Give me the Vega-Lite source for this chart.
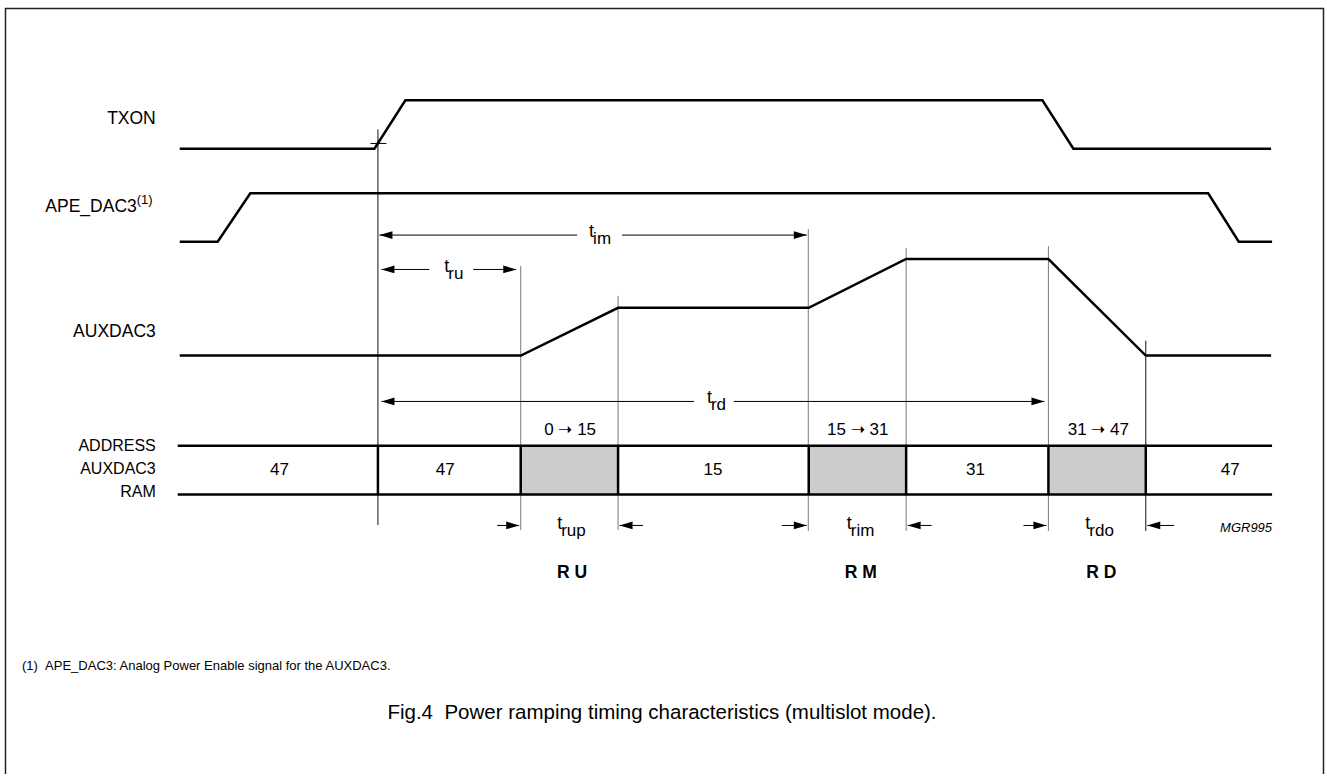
{
  "$schema": "https://vega.github.io/schema/vega-lite/v6.json",
  "autosize": {"type": "fit", "contains": "padding"},
  "width": 1327,
  "height": 777,
  "padding": 0,
  "background": "white",
  "config": {"view": {"stroke": null}, "text": {"font": "Liberation Sans", "color": "black"}},
  "datasets": {
    "frame": [
      {"i": 0, "x": 5.5, "y": 777},
      {"i": 1, "x": 5.5, "y": 8.5},
      {"i": 2, "x": 1325.5, "y": 8.5},
      {"i": 3, "x": 1325.5, "y": 777}
    ],
    "wave": [
      {"sig": "TXON", "i": 0, "x": 180, "y": 149.3},
      {"sig": "TXON", "i": 1, "x": 375, "y": 149.3},
      {"sig": "TXON", "i": 2, "x": 406, "y": 100.7},
      {"sig": "TXON", "i": 3, "x": 1044, "y": 100.7},
      {"sig": "TXON", "i": 4, "x": 1075, "y": 149.3},
      {"sig": "TXON", "i": 5, "x": 1273, "y": 149.3},
      {"sig": "APE", "i": 0, "x": 180, "y": 242.7},
      {"sig": "APE", "i": 1, "x": 218, "y": 242.7},
      {"sig": "APE", "i": 2, "x": 250.7, "y": 194},
      {"sig": "APE", "i": 3, "x": 1210, "y": 194},
      {"sig": "APE", "i": 4, "x": 1240.6, "y": 242.7},
      {"sig": "APE", "i": 5, "x": 1274, "y": 242.7},
      {"sig": "AUX", "i": 0, "x": 180, "y": 357},
      {"sig": "AUX", "i": 1, "x": 521.7, "y": 357},
      {"sig": "AUX", "i": 2, "x": 619, "y": 309},
      {"sig": "AUX", "i": 3, "x": 810, "y": 309},
      {"sig": "AUX", "i": 4, "x": 907.5, "y": 260},
      {"sig": "AUX", "i": 5, "x": 1050, "y": 260},
      {"sig": "AUX", "i": 6, "x": 1147.5, "y": 357},
      {"sig": "AUX", "i": 7, "x": 1273, "y": 357}
    ],
    "guides": [
      {"x": 378.5, "y": 130, "y2": 527, "tone": "dark"},
      {"x": 521.5, "y": 267, "y2": 532, "tone": "light"},
      {"x": 619, "y": 297, "y2": 532, "tone": "light"},
      {"x": 809.5, "y": 230, "y2": 533, "tone": "light"},
      {"x": 907.5, "y": 249, "y2": 533, "tone": "light"},
      {"x": 1050, "y": 247, "y2": 533, "tone": "light"},
      {"x": 1147.5, "y": 342, "y2": 533, "tone": "dark"}
    ],
    "dims": [
      {"x": 371, "x2": 387, "y": 144},
      {"x": 380, "x2": 578, "y": 236},
      {"x": 623, "x2": 808, "y": 236},
      {"x": 382, "x2": 430, "y": 270.5},
      {"x": 474, "x2": 517, "y": 270.5},
      {"x": 382, "x2": 695, "y": 403},
      {"x": 735, "x2": 1046, "y": 403},
      {"x": 498, "x2": 520, "y": 527.5},
      {"x": 620.5, "x2": 644, "y": 527.5},
      {"x": 783, "x2": 808, "y": 527.5},
      {"x": 909, "x2": 933, "y": 527.5},
      {"x": 1025, "x2": 1048, "y": 527.5},
      {"x": 1149, "x2": 1176, "y": 527.5}
    ],
    "heads": [
      {"x": 380, "y": 236, "dir": "left"},
      {"x": 808, "y": 236, "dir": "right"},
      {"x": 382, "y": 270.5, "dir": "left"},
      {"x": 517, "y": 270.5, "dir": "right"},
      {"x": 382, "y": 403, "dir": "left"},
      {"x": 1046, "y": 403, "dir": "right"},
      {"x": 520, "y": 527.5, "dir": "right"},
      {"x": 620.5, "y": 527.5, "dir": "left"},
      {"x": 808, "y": 527.5, "dir": "right"},
      {"x": 909, "y": 527.5, "dir": "left"},
      {"x": 1048, "y": 527.5, "dir": "right"},
      {"x": 1149, "y": 527.5, "dir": "left"}
    ],
    "bus": [
      {"x": 178, "x2": 1274, "y": 447.5},
      {"x": 178, "x2": 1274, "y": 496.5}
    ],
    "cells": [
      {"x": 378.5, "y": 447.5, "y2": 496.5},
      {"x": 521.5, "y": 447.5, "y2": 496.5},
      {"x": 619, "y": 447.5, "y2": 496.5},
      {"x": 810, "y": 447.5, "y2": 496.5},
      {"x": 907.5, "y": 447.5, "y2": 496.5},
      {"x": 1050, "y": 447.5, "y2": 496.5},
      {"x": 1147.5, "y": 447.5, "y2": 496.5}
    ],
    "boxes": [
      {"x": 521.5, "x2": 619, "y": 447.5, "y2": 496.5},
      {"x": 810, "x2": 907.5, "y": 447.5, "y2": 496.5},
      {"x": 1050, "x2": 1147.5, "y": 447.5, "y2": 496.5}
    ],
    "tlabels": [
      {"x": 594, "y": 238, "sub": "im"},
      {"x": 449, "y": 273, "sub": "ru"},
      {"x": 712, "y": 405, "sub": "rd"},
      {"x": 562, "y": 531, "sub": "rup"},
      {"x": 852, "y": 531, "sub": "rim"},
      {"x": 1091, "y": 531, "sub": "rdo"}
    ],
    "texts": [
      {"role": "sig", "x": 156, "y": 119, "text": "TXON"},
      {"role": "sig", "x": 137, "y": 208, "text": "APE_DAC3"},
      {"role": "sup", "x": 137, "y": 201, "text": "(1)"},
      {"role": "sig", "x": 156, "y": 333, "text": "AUXDAC3"},
      {"role": "bus", "x": 156, "y": 448, "text": "ADDRESS"},
      {"role": "bus", "x": 156, "y": 471, "text": "AUXDAC3"},
      {"role": "bus", "x": 156, "y": 494, "text": "RAM"},
      {"role": "val", "x": 280, "y": 472, "text": "47"},
      {"role": "val", "x": 446, "y": 472, "text": "47"},
      {"role": "val", "x": 714, "y": 472, "text": "15"},
      {"role": "val", "x": 977, "y": 472, "text": "31"},
      {"role": "val", "x": 1232, "y": 472, "text": "47"},
      {"role": "val", "x": 571, "y": 432, "text": "0 ➝ 15"},
      {"role": "val", "x": 859, "y": 432, "text": "15 ➝ 31"},
      {"role": "val", "x": 1100, "y": 432, "text": "31 ➝ 47"},
      {"role": "zone", "x": 573, "y": 575, "text": "R U"},
      {"role": "zone", "x": 862, "y": 575, "text": "R M"},
      {"role": "zone", "x": 1103, "y": 575, "text": "R D"},
      {"role": "code", "x": 1274, "y": 530, "text": "MGR995"},
      {"role": "foot", "x": 22, "y": 669, "text": "(1)\u00a0\u00a0APE_DAC3: Analog Power Enable signal for the AUXDAC3."},
      {"role": "cap", "x": 663, "y": 716, "text": "Fig.4\u00a0\u00a0Power ramping timing characteristics (multislot mode)."}
    ]
  },
  "layer": [
    {
      "data": {"name": "frame"},
      "mark": {"type": "line", "color": "#222222", "strokeWidth": 1.5},
      "encoding": {
        "x": {"field": "x", "type": "quantitative", "scale": {"domain": [0, 1327], "nice": false, "zero": false}, "axis": null},
        "y": {"field": "y", "type": "quantitative", "scale": {"domain": [0, 777], "reverse": true, "nice": false, "zero": false}, "axis": null},
        "order": {"field": "i"}
      }
    },
    {
      "data": {"name": "boxes"},
      "mark": {"type": "rect", "fill": "#cccccc"},
      "encoding": {
        "x": {"field": "x", "type": "quantitative", "axis": null},
        "x2": {"field": "x2"},
        "y": {"field": "y", "type": "quantitative", "axis": null},
        "y2": {"field": "y2"}
      }
    },
    {
      "data": {"name": "guides"},
      "mark": {"type": "rule", "strokeWidth": 1},
      "encoding": {
        "x": {"field": "x", "type": "quantitative", "axis": null},
        "y": {"field": "y", "type": "quantitative", "axis": null},
        "y2": {"field": "y2"},
        "color": {"field": "tone", "type": "nominal", "scale": {"domain": ["dark", "light"], "range": ["#111111", "#7a7a7a"]}, "legend": null}
      }
    },
    {
      "data": {"name": "dims"},
      "mark": {"type": "rule", "strokeWidth": 1, "color": "black"},
      "encoding": {
        "x": {"field": "x", "type": "quantitative", "axis": null},
        "x2": {"field": "x2"},
        "y": {"field": "y", "type": "quantitative", "axis": null}
      }
    },
    {
      "data": {"name": "heads"},
      "mark": {"type": "point", "filled": true, "color": "black", "opacity": 1, "size": 169, "strokeWidth": 0},
      "encoding": {
        "x": {"field": "x", "type": "quantitative", "axis": null},
        "y": {"field": "y", "type": "quantitative", "axis": null},
        "shape": {"field": "dir", "type": "nominal", "scale": {"domain": ["left", "right"], "range": ["M0,0L2,-0.6L2,0.6Z", "M0,0L-2,-0.6L-2,0.6Z"]}, "legend": null}
      }
    },
    {
      "data": {"name": "bus"},
      "mark": {"type": "rule", "strokeWidth": 2.5, "color": "black"},
      "encoding": {
        "x": {"field": "x", "type": "quantitative", "axis": null},
        "x2": {"field": "x2"},
        "y": {"field": "y", "type": "quantitative", "axis": null}
      }
    },
    {
      "data": {"name": "cells"},
      "mark": {"type": "rule", "strokeWidth": 2.5, "color": "black"},
      "encoding": {
        "x": {"field": "x", "type": "quantitative", "axis": null},
        "y": {"field": "y", "type": "quantitative", "axis": null},
        "y2": {"field": "y2"}
      }
    },
    {
      "data": {"name": "wave"},
      "mark": {"type": "line", "color": "black", "strokeWidth": 2.5, "strokeJoin": "miter"},
      "encoding": {
        "x": {"field": "x", "type": "quantitative", "axis": null},
        "y": {"field": "y", "type": "quantitative", "axis": null},
        "detail": {"field": "sig"},
        "order": {"field": "i"}
      }
    },
    {
      "data": {"name": "tlabels"},
      "mark": {"type": "text", "text": "t", "align": "right", "baseline": "alphabetic", "fontSize": 18, "dx": 1},
      "encoding": {
        "x": {"field": "x", "type": "quantitative", "axis": null},
        "y": {"field": "y", "type": "quantitative", "axis": null}
      }
    },
    {
      "data": {"name": "tlabels"},
      "mark": {"type": "text", "align": "left", "baseline": "alphabetic", "fontSize": 17, "dy": 7},
      "encoding": {
        "x": {"field": "x", "type": "quantitative", "axis": null},
        "y": {"field": "y", "type": "quantitative", "axis": null},
        "text": {"field": "sub"}
      }
    },
    {
      "data": {"name": "texts"},
      "transform": [{"filter": "datum.role === 'sig'"}],
      "mark": {"type": "text", "align": "right", "baseline": "middle", "fontSize": 17.5},
      "encoding": {
        "x": {"field": "x", "type": "quantitative", "axis": null},
        "y": {"field": "y", "type": "quantitative", "axis": null},
        "text": {"field": "text"}
      }
    },
    {
      "data": {"name": "texts"},
      "transform": [{"filter": "datum.role === 'bus'"}],
      "mark": {"type": "text", "align": "right", "baseline": "middle", "fontSize": 16},
      "encoding": {
        "x": {"field": "x", "type": "quantitative", "axis": null},
        "y": {"field": "y", "type": "quantitative", "axis": null},
        "text": {"field": "text"}
      }
    },
    {
      "data": {"name": "texts"},
      "transform": [{"filter": "datum.role === 'sup'"}],
      "mark": {"type": "text", "align": "left", "baseline": "middle", "fontSize": 13},
      "encoding": {
        "x": {"field": "x", "type": "quantitative", "axis": null},
        "y": {"field": "y", "type": "quantitative", "axis": null},
        "text": {"field": "text"}
      }
    },
    {
      "data": {"name": "texts"},
      "transform": [{"filter": "datum.role === 'val'"}],
      "mark": {"type": "text", "align": "center", "baseline": "middle", "fontSize": 17},
      "encoding": {
        "x": {"field": "x", "type": "quantitative", "axis": null},
        "y": {"field": "y", "type": "quantitative", "axis": null},
        "text": {"field": "text"}
      }
    },
    {
      "data": {"name": "texts"},
      "transform": [{"filter": "datum.role === 'zone'"}],
      "mark": {"type": "text", "align": "center", "baseline": "middle", "fontSize": 17.5, "fontWeight": "bold"},
      "encoding": {
        "x": {"field": "x", "type": "quantitative", "axis": null},
        "y": {"field": "y", "type": "quantitative", "axis": null},
        "text": {"field": "text"}
      }
    },
    {
      "data": {"name": "texts"},
      "transform": [{"filter": "datum.role === 'code'"}],
      "mark": {"type": "text", "align": "right", "baseline": "middle", "fontSize": 13, "fontStyle": "italic"},
      "encoding": {
        "x": {"field": "x", "type": "quantitative", "axis": null},
        "y": {"field": "y", "type": "quantitative", "axis": null},
        "text": {"field": "text"}
      }
    },
    {
      "data": {"name": "texts"},
      "transform": [{"filter": "datum.role === 'foot'"}],
      "mark": {"type": "text", "align": "left", "baseline": "middle", "fontSize": 13},
      "encoding": {
        "x": {"field": "x", "type": "quantitative", "axis": null},
        "y": {"field": "y", "type": "quantitative", "axis": null},
        "text": {"field": "text"}
      }
    },
    {
      "data": {"name": "texts"},
      "transform": [{"filter": "datum.role === 'cap'"}],
      "mark": {"type": "text", "align": "center", "baseline": "middle", "fontSize": 20.5},
      "encoding": {
        "x": {"field": "x", "type": "quantitative", "axis": null},
        "y": {"field": "y", "type": "quantitative", "axis": null},
        "text": {"field": "text"}
      }
    }
  ]
}
